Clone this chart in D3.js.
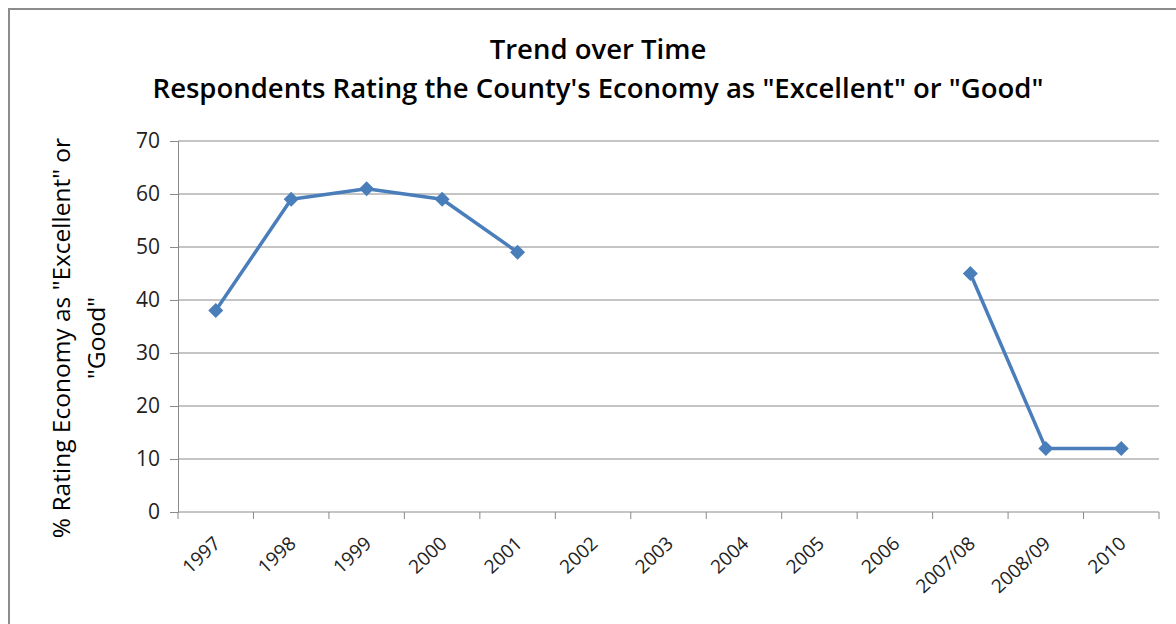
<!DOCTYPE html>
<html>
<head>
<meta charset="utf-8">
<script src="https://cdn.jsdelivr.net/npm/d3@7"></script>
<style>
  html, body { margin: 0; padding: 0; background: #fff; }
  svg { display: block; }
  text { font-family: "Open Sans", "Noto Sans", sans-serif; }
</style>
</head>
<body>
<svg id="chart" width="1176" height="624"></svg>
<script>
// Survey years and the share rating the county economy "Excellent" or "Good"
const categories = ["1997", "1998", "1999", "2000", "2001", "2002", "2003", "2004", "2005", "2006", "2007/08", "2008/09", "2010"];
const values = [38, 59, 61, 59, 49, null, null, null, null, null, 45, 12, 12];
const yTicks = [0, 10, 20, 30, 40, 50, 60, 70];
const titleLines = ["Trend over Time", "Respondents Rating the County's Economy as \"Excellent\" or \"Good\""];
const yTitleLines = ["% Rating Economy as \"Excellent\" or", "\"Good\""];

const svg = d3.select("#chart");
const W = 1176, H = 624;
const margin = { left: 178, right: 17, top: 141, bottom: 112 };
const plotW = W - margin.left - margin.right;
const plotH = H - margin.top - margin.bottom;

// Outer chart frame
svg.append("rect")
  .attr("x", 9).attr("y", 9)
  .attr("width", 1200).attr("height", 700)
  .attr("fill", "none").attr("stroke", "#8c8c8c").attr("stroke-width", 2);

const g = svg.append("g").attr("transform", `translate(${margin.left},${margin.top})`);

const x = d3.scaleBand().domain(categories).range([0, plotW]).padding(0);
const y = d3.scaleLinear().domain([0, 70]).range([plotH, 0]);

// Horizontal gridlines
g.append("g").selectAll("line").data(yTicks.filter(d => d > 0)).join("line")
  .attr("x1", 0).attr("x2", plotW)
  .attr("y1", d => y(d)).attr("y2", d => y(d))
  .attr("stroke", "#8a8a8a").attr("stroke-width", 1);

// Y axis
const yAxis = g.append("g")
  .call(d3.axisLeft(y).tickValues(yTicks).tickSize(8).tickPadding(10).tickFormat(d3.format("d")));
yAxis.select(".domain").attr("stroke", "#8a8a8a");
yAxis.selectAll(".tick line").attr("stroke", "#8a8a8a");
yAxis.selectAll(".tick text").attr("font-size", 21).attr("fill", "#222")
  .attr("font-family", "\"Open Sans\", sans-serif");

// X axis with ticks on category boundaries
const xAxis = g.append("g").attr("transform", `translate(0,${plotH})`);
xAxis.append("line").attr("x1", 0).attr("x2", plotW).attr("stroke", "#8a8a8a");
const bounds = d3.range(categories.length + 1).map(i => i * x.step());
xAxis.selectAll("line.tk").data(bounds).join("line").attr("class", "tk")
  .attr("x1", d => d).attr("x2", d => d).attr("y1", 0).attr("y2", 7)
  .attr("stroke", "#8a8a8a");
xAxis.selectAll("text").data(categories).join("text")
  .attr("transform", d => `translate(${x(d) + x.bandwidth() / 2 + 6},${33}) rotate(-43)`)
  .attr("text-anchor", "end")
  .attr("font-size", 19).attr("fill", "#222")
  .text(d => d);

// Line with gaps for missing years
const line = d3.line()
  .defined(d => d.v !== null)
  .x(d => x(d.c) + x.bandwidth() / 2)
  .y(d => y(d.v));
const pts = categories.map((c, i) => ({ c, v: values[i] }));
g.append("path").datum(pts)
  .attr("d", line)
  .attr("fill", "none").attr("stroke", "#4a7ebb").attr("stroke-width", 3.5)
  .attr("stroke-linejoin", "round");

// Diamond markers
g.append("g").selectAll("path").data(pts.filter(d => d.v !== null)).join("path")
  .attr("transform", d => `translate(${x(d.c) + x.bandwidth() / 2},${y(d.v)})`)
  .attr("d", "M0,-7.5L7.5,0L0,7.5L-7.5,0Z")
  .attr("fill", "#4a7ebb");

// Title
svg.append("g").selectAll("text").data(titleLines).join("text")
  .attr("x", 598).attr("y", (d, i) => 59 + i * 39)
  .attr("text-anchor", "middle")
  .attr("font-size", 27.5).attr("font-weight", 600).attr("fill", "#000")
  .text(d => d);

// Y axis title
svg.append("g").attr("transform", "translate(0,338) rotate(-90)")
  .selectAll("text").data(yTitleLines).join("text")
  .attr("x", 0).attr("y", (d, i) => 70 + i * 35)
  .attr("text-anchor", "middle")
  .attr("font-size", 24.5).attr("fill", "#000")
  .text(d => d);
</script>
</body>
</html>
